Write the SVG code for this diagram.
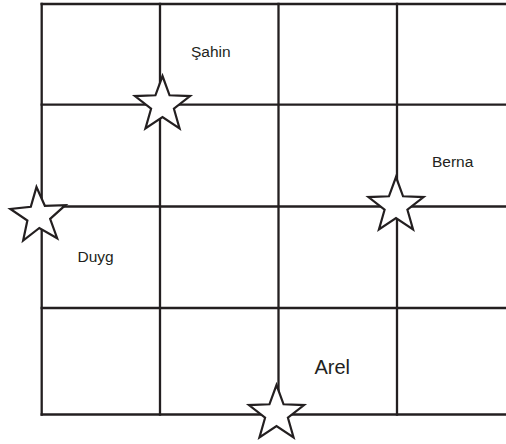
<svg xmlns="http://www.w3.org/2000/svg" xmlns:xlink="http://www.w3.org/1999/xlink" width="506" height="444" viewBox="0 0 506 444">
  <style>
    .grid line { stroke: #231f20; stroke-width: 2.3; stroke-linecap: square; }
    .star { fill: #ffffff; stroke: #231f20; stroke-width: 2.2; stroke-linejoin: miter; stroke-miterlimit: 10; }
    .lbl { font-family: "Liberation Sans", Arial, sans-serif; fill: #231f20; }
  </style>
  <defs>
    <path id="starShape" d="M0,-29 L7.05,-9.71 L27.58,-8.96 L11.41,3.71 L17.05,23.46 L0,12 L-17.05,23.46 L-11.41,3.71 L-27.58,-8.96 L-7.05,-9.71 Z"/>
  </defs>
  <rect width="506" height="444" fill="#ffffff"/>
  <g id="connectors" class="grid">
    <line x1="41.7" y1="4" x2="507" y2="4"/>
    <line x1="41.7" y1="104.7" x2="507" y2="104.7"/>
    <line x1="41.7" y1="206.5" x2="507" y2="206.5"/>
    <line x1="41.7" y1="308" x2="507" y2="308"/>
    <line x1="41.7" y1="414.5" x2="507" y2="414.5"/>
    <line x1="41.7" y1="4" x2="41.7" y2="414.5"/>
    <line x1="160" y1="4" x2="160" y2="414.5"/>
    <line x1="278.5" y1="4" x2="278.5" y2="414.5"/>
    <line x1="397" y1="4" x2="397" y2="414.5"/>
  </g>
  <g id="star-sahin"><use xlink:href="#starShape" class="star" transform="translate(162.5,105)"/></g>
  <g id="star-berna"><use xlink:href="#starShape" class="star" transform="translate(396,206)"/></g>
  <g id="star-duyg"><use xlink:href="#starShape" class="star" transform="translate(38.5,216) rotate(-4)"/></g>
  <g id="star-arel"><use xlink:href="#starShape" class="star" transform="translate(276.5,414)"/></g>
  <g id="label-sahin"><text class="lbl" x="191" y="57" font-size="15.5">Şahin</text></g>
  <g id="label-berna"><text class="lbl" x="432" y="167.3" font-size="15.5">Berna</text></g>
  <g id="label-duyg"><text class="lbl" x="77.5" y="262" font-size="15.5">Duyg</text></g>
  <g id="label-arel"><text class="lbl" x="314.5" y="373.5" font-size="20">Arel</text></g>
</svg>
